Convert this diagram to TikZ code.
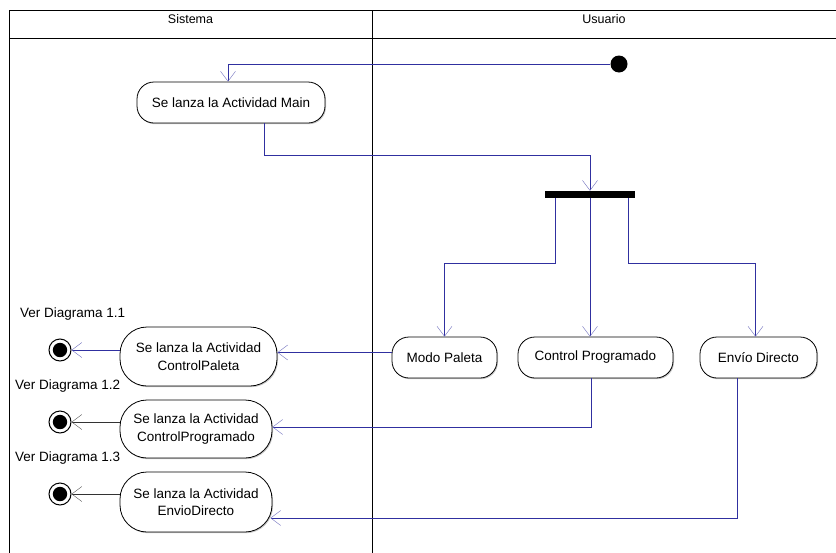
\documentclass[tikz,border=0pt]{standalone}
\usepackage{fontspec}
\setmainfont{Liberation Sans}
\usetikzlibrary{arrows.meta,shadows}
\definecolor{flowblue}{RGB}{48,48,160}
\definecolor{headgray}{RGB}{90,90,90}
\tikzset{
  act/.style={draw=black, line width=0.8pt, fill=white, rounded corners=17pt,
    minimum height=41pt, inner sep=1pt, align=center, font=\fontsize{13.5}{17.5}\selectfont,
    drop shadow={shadow xshift=1pt, shadow yshift=-1.2pt, opacity=0.45, fill=gray}},
  bigact/.style={act, rounded corners=27pt, minimum height=59pt},
  flow/.style={draw=flowblue, line width=0.6pt,
    -{Straight Barb[length=10pt,width=15pt,line width=0.4pt,color=flowblue!70]}},
  endflow/.style={draw=black!80, line width=0.6pt,
    -{Straight Barb[length=10pt,width=15pt,line width=0.4pt,color=headgray]}},
  lane/.style={draw=black, line width=0.9pt},
  lanehead/.style={font=\fontsize{12.5}{14}\selectfont},
  startnode/.style={circle, fill=black, minimum size=17pt, inner sep=0pt},
  finalnode/.style={circle, draw=black, line width=1pt, fill=white, minimum size=22pt, inner sep=0pt,
    path picture={\fill[black] (path picture bounding box.center) circle (7.2pt);}},
  note/.style={font=\fontsize{13.5}{15}\selectfont, anchor=west, inner sep=0pt}
}
\begin{document}
\begin{tikzpicture}[x=1pt, y=-1pt]
  \useasboundingbox (0,0) rectangle (836,552);
  \clip (0,0) rectangle (836,552);
  % swimlane frame
  \draw[lane] (9,552.5) -- (9,10) -- (840,10);
  \draw[lane] (9,38) -- (840,38);
  \draw[lane] (372,10) -- (372,552.5);
  \node[lanehead] (hsis) at (190.5,19) {Sistema};
  \node[lanehead] (husu) at (604,19) {Usuario};

  % activities
  \node[startnode] (init) at (619,64) {};
  \node[act, minimum width=188pt] (main) at (231,102.5) {Se lanza la Actividad Main};
  \node[fill=black, minimum width=90pt, minimum height=7pt, inner sep=0pt] (fork) at (590,194.5) {};
  \node[act, minimum width=105pt] (modo) at (444.5,357.5) {Modo Paleta};
  \node[act, minimum width=155pt] (ctrl) at (595.5,357.5) {Control Programado};
  \node[act, minimum width=117pt] (envio) at (758.5,357.5) {Envío Directo};

  \node[bigact, minimum width=157pt] (cpal) at (198.5,356.5) {Se lanza la Actividad\\ControlPaleta};
  \node[bigact, minimum width=152pt, minimum height=58pt] (cprog) at (196,429) {Se lanza la Actividad\\ControlProgramado};
  \node[bigact, minimum width=152pt, minimum height=60pt] (cdir) at (196,502) {Se lanza la Actividad\\EnvioDirecto};

  \node[finalnode] (f1) at (60,350) {};
  \node[finalnode] (f2) at (60,422) {};
  \node[finalnode] (f3) at (60,494) {};
  \node[note] (n1) at (20,314) {Ver Diagrama 1.1};
  \node[note] (n2) at (15,386) {Ver Diagrama 1.2};
  \node[note] (n3) at (15,458) {Ver Diagrama 1.3};

  % transitions
  \draw[flow] (init.west) -| ([xshift=-3pt]main.north);
  \draw[flow] ([xshift=33pt]main.south) -- ++(0,32) -| (fork.north);
  \draw[flow] ([xshift=-35pt]fork.south) -- ++(0,65) -| (modo.north);
  \draw[flow] (fork.south) -- (fork.south |- ctrl.north);
  \draw[flow] ([xshift=38pt]fork.south) -- ++(0,65) -| ([xshift=-3pt]envio.north);
  \draw[flow] ([yshift=5pt]modo.west) -- ([yshift=5pt]modo.west -| cpal.east);
  \draw[flow] ([xshift=-4pt]ctrl.south) |- ([yshift=2pt]cprog.east);
  \draw[flow] ([xshift=-21pt]envio.south) |- ([xshift=-2pt,yshift=-16pt]cdir.east);
  \draw[flow] (cpal.west |- f1) -- (f1);
  \draw[endflow] (cprog.west |- f2) -- (f2);
  \draw[endflow] (cdir.west |- f3) -- (f3);
\end{tikzpicture}
\end{document}
